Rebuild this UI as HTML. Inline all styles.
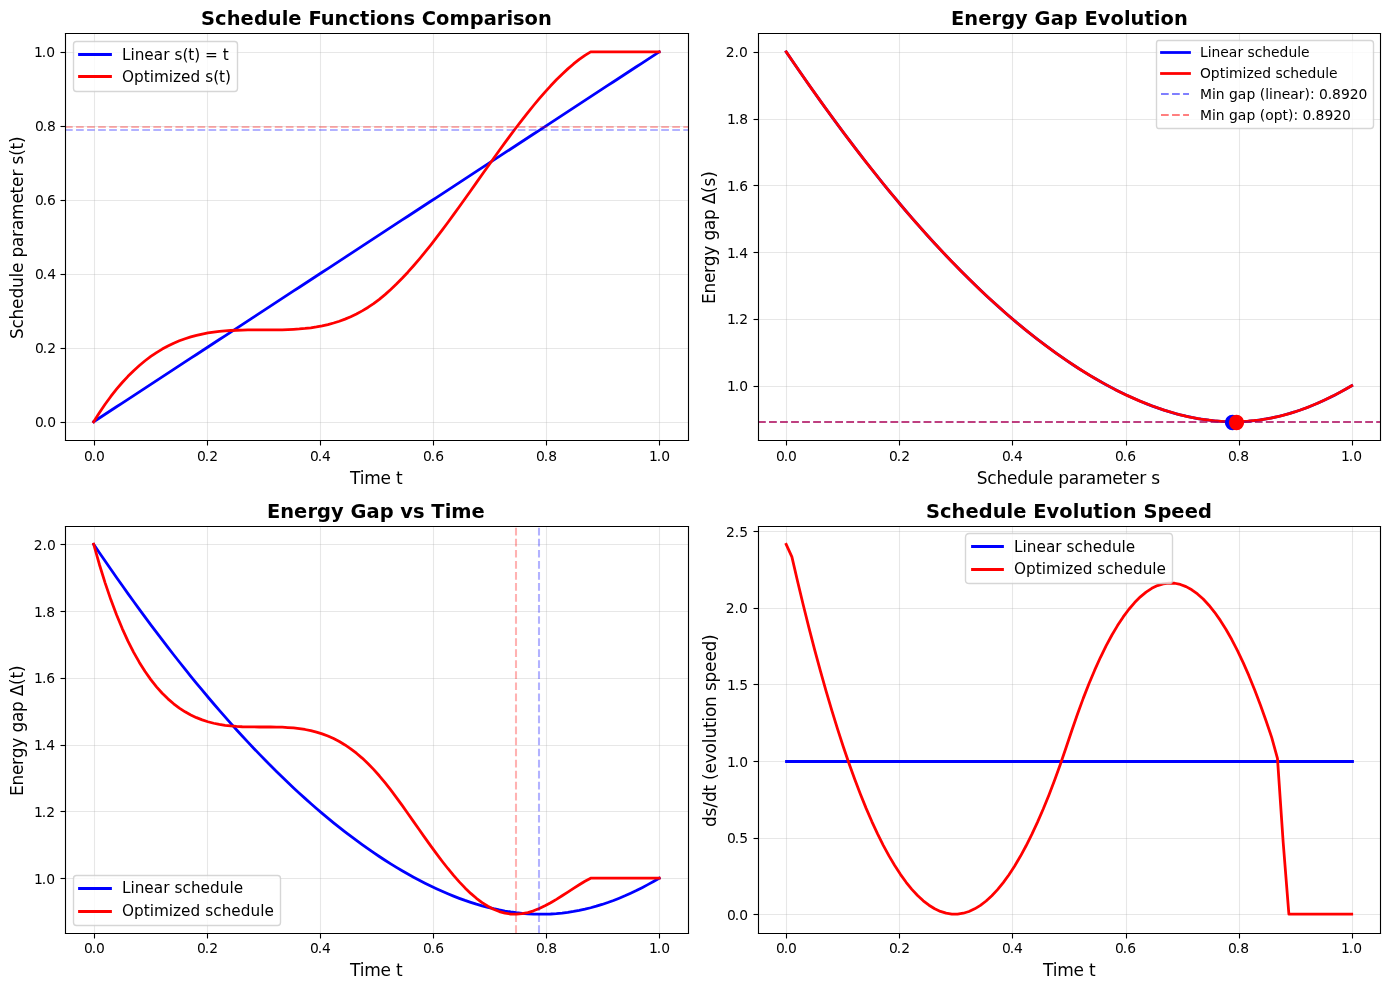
<!DOCTYPE html>
<html lang="en">
<head>
<meta charset="utf-8">
<title>Schedule Functions Comparison</title>
<style>
html,body{margin:0;padding:0;background:#fff;}
body{width:1389px;height:990px;overflow:hidden;}
svg{display:block;}
svg text{font-family:"DejaVu Sans","Liberation Sans",sans-serif;fill:#000;}
</style>
</head>
<body>
<svg width="1389" height="990" viewBox="0 0 1389 990">
<defs>
<clipPath id="c1"><rect x="65" y="33" width="623" height="407"/></clipPath>
<clipPath id="c2"><rect x="758" y="33" width="622" height="407"/></clipPath>
<clipPath id="c3"><rect x="65" y="526" width="623" height="407"/></clipPath>
<clipPath id="c4"><rect x="758" y="526" width="622" height="407"/></clipPath>
</defs>
<path d="M0 990L1390 990L1390 0L0 0Z" fill="#ffffff"/>
<path d="M65 440L688 440L688 33L65 33Z" fill="#ffffff"/>
<path d="M94.5 440.5L94.5 33.5" fill="none" stroke="#b0b0b0" stroke-width="1.111" stroke-opacity="0.3" stroke-linecap="square" stroke-linejoin="round" clip-path="url(#c1)"/>
<path d="M94.5 440.5L94.5 445.5" fill="none" stroke="#000000" stroke-width="1.111" stroke-linejoin="round"/>
<text x="84 91.75 96" y="461" font-size="13.889">0.0</text>
<path d="M207.5 440.5L207.5 33.5" fill="none" stroke="#b0b0b0" stroke-width="1.111" stroke-opacity="0.3" stroke-linecap="square" stroke-linejoin="round" clip-path="url(#c1)"/>
<path d="M207.5 440.5L207.5 445.5" fill="none" stroke="#000000" stroke-width="1.111" stroke-linejoin="round"/>
<text x="197 204.75 209.25" y="461" font-size="13.889">0.2</text>
<path d="M320.5 440.5L320.5 33.5" fill="none" stroke="#b0b0b0" stroke-width="1.111" stroke-opacity="0.3" stroke-linecap="square" stroke-linejoin="round" clip-path="url(#c1)"/>
<path d="M320.5 440.5L320.5 445.5" fill="none" stroke="#000000" stroke-width="1.111" stroke-linejoin="round"/>
<text x="310 317.75 322" y="461" font-size="13.889">0.4</text>
<path d="M433.5 440.5L433.5 33.5" fill="none" stroke="#b0b0b0" stroke-width="1.111" stroke-opacity="0.3" stroke-linecap="square" stroke-linejoin="round" clip-path="url(#c1)"/>
<path d="M433.5 440.5L433.5 445.5" fill="none" stroke="#000000" stroke-width="1.111" stroke-linejoin="round"/>
<text x="423 430.75 435.25" y="461" font-size="13.889">0.6</text>
<path d="M546.5 440.5L546.5 33.5" fill="none" stroke="#b0b0b0" stroke-width="1.111" stroke-opacity="0.3" stroke-linecap="square" stroke-linejoin="round" clip-path="url(#c1)"/>
<path d="M546.5 440.5L546.5 445.5" fill="none" stroke="#000000" stroke-width="1.111" stroke-linejoin="round"/>
<text x="536 543.75 548.25" y="461" font-size="13.889">0.8</text>
<path d="M659.5 440.5L659.5 33.5" fill="none" stroke="#b0b0b0" stroke-width="1.111" stroke-opacity="0.3" stroke-linecap="square" stroke-linejoin="round" clip-path="url(#c1)"/>
<path d="M659.5 440.5L659.5 445.5" fill="none" stroke="#000000" stroke-width="1.111" stroke-linejoin="round"/>
<text x="649 656.75 661.25" y="461" font-size="13.889">1.0</text>
<text x="350 359.75 364.25 380.5 390.75 396" y="484" font-size="17">Time t</text>
<path d="M65.5 422.5L688.5 422.5" fill="none" stroke="#b0b0b0" stroke-width="1.111" stroke-opacity="0.3" stroke-linecap="square" stroke-linejoin="round" clip-path="url(#c1)"/>
<path d="M65.5 422.5L60.5 422.5" fill="none" stroke="#000000" stroke-width="1.111" stroke-linejoin="round"/>
<text x="35 42.75 47.25" y="427" font-size="13.889">0.0</text>
<path d="M65.5 348.5L688.5 348.5" fill="none" stroke="#b0b0b0" stroke-width="1.111" stroke-opacity="0.3" stroke-linecap="square" stroke-linejoin="round" clip-path="url(#c1)"/>
<path d="M65.5 348.5L60.5 348.5" fill="none" stroke="#000000" stroke-width="1.111" stroke-linejoin="round"/>
<text x="35 42.75 47.25" y="353" font-size="13.889">0.2</text>
<path d="M65.5 274.5L688.5 274.5" fill="none" stroke="#b0b0b0" stroke-width="1.111" stroke-opacity="0.3" stroke-linecap="square" stroke-linejoin="round" clip-path="url(#c1)"/>
<path d="M65.5 274.5L60.5 274.5" fill="none" stroke="#000000" stroke-width="1.111" stroke-linejoin="round"/>
<text x="35 42.75 47.25" y="279" font-size="13.889">0.4</text>
<path d="M65.5 200.5L688.5 200.5" fill="none" stroke="#b0b0b0" stroke-width="1.111" stroke-opacity="0.3" stroke-linecap="square" stroke-linejoin="round" clip-path="url(#c1)"/>
<path d="M65.5 200.5L60.5 200.5" fill="none" stroke="#000000" stroke-width="1.111" stroke-linejoin="round"/>
<text x="35 42.75 47" y="205" font-size="13.889">0.6</text>
<path d="M65.5 126.5L688.5 126.5" fill="none" stroke="#b0b0b0" stroke-width="1.111" stroke-opacity="0.3" stroke-linecap="square" stroke-linejoin="round" clip-path="url(#c1)"/>
<path d="M65.5 126.5L60.5 126.5" fill="none" stroke="#000000" stroke-width="1.111" stroke-linejoin="round"/>
<text x="35 42.75 47" y="131" font-size="13.889">0.8</text>
<path d="M65.5 52.5L688.5 52.5" fill="none" stroke="#b0b0b0" stroke-width="1.111" stroke-opacity="0.3" stroke-linecap="square" stroke-linejoin="round" clip-path="url(#c1)"/>
<path d="M65.5 52.5L60.5 52.5" fill="none" stroke="#000000" stroke-width="1.111" stroke-linejoin="round"/>
<text x="34 41.75 46.25" y="57" font-size="13.889">1.0</text>
<text x="23 33.5 42.5 53 63.5 74 84.5 89 99.25 104.5 115 125 132 142 158.5 168.5 175 185.5 192.25 197.5 206.25 212.5 219" y="339" transform="rotate(-90 23 339)" font-size="17">Schedule parameter s(t)</text>
<path d="M93.68 421.73L99.39 417.99L105.11 414.25L110.82 410.52L116.53 406.78L122.24 403.05L127.96 399.31L133.67 395.57L139.38 391.84L145.09 388.1L150.81 384.36L156.52 380.63L162.23 376.89L167.94 373.15L173.66 369.42L179.37 365.68L185.08 361.95L190.79 358.21L196.51 354.47L202.22 350.74L207.93 347L213.64 343.26L219.36 339.53L225.07 335.79L230.78 332.05L236.49 328.32L242.21 324.58L247.92 320.85L253.63 317.11L259.34 313.37L265.06 309.64L270.77 305.9L276.48 302.16L282.19 298.43L287.91 294.69L293.62 290.95L299.33 287.22L305.04 283.48L310.76 279.75L316.47 276.01L322.18 272.27L327.89 268.54L333.61 264.8L339.32 261.06L345.03 257.33L350.74 253.59L356.46 249.86L362.17 246.12L367.88 242.38L373.6 238.65L379.31 234.91L385.02 231.17L390.73 227.44L396.45 223.7L402.16 219.96L407.87 216.23L413.58 212.49L419.3 208.76L425.01 205.02L430.72 201.28L436.43 197.55L442.15 193.81L447.86 190.07L453.57 186.34L459.28 182.6L465 178.86L470.71 175.13L476.42 171.39L482.13 167.66L487.85 163.92L493.56 160.18L499.27 156.45L504.98 152.71L510.7 148.97L516.41 145.24L522.12 141.5L527.83 137.76L533.55 134.03L539.26 130.29L544.97 126.56L550.68 122.82L556.4 119.08L562.11 115.35L567.82 111.61L573.53 107.87L579.25 104.14L584.96 100.4L590.67 96.66L596.38 92.93L602.1 89.19L607.81 85.46L613.52 81.72L619.23 77.98L624.95 74.25L630.66 70.51L636.37 66.77L642.09 63.04L647.8 59.3L653.51 55.56L659.22 51.83" fill="none" stroke="#0000ff" stroke-width="2.778" stroke-linecap="square" stroke-linejoin="round" clip-path="url(#c1)"/>
<path d="M93.68 421.73L99.39 412.71L105.11 404.3L110.82 396.48L116.53 389.22L122.24 382.52L127.96 376.34L133.67 370.66L139.38 365.47L145.09 360.74L150.81 356.44L156.52 352.57L162.23 349.09L167.94 345.99L173.66 343.24L179.37 340.82L185.08 338.72L190.79 336.9L196.51 335.36L202.22 334.06L207.93 332.98L213.64 332.11L219.36 331.43L225.07 330.9L230.78 330.51L236.49 330.24L242.21 330.07L247.92 329.97L253.63 329.93L259.34 329.92L265.06 329.92L270.77 329.92L276.48 329.88L282.19 329.78L287.91 329.61L293.62 329.35L299.33 328.97L305.04 328.45L310.76 327.77L316.47 326.91L322.18 325.84L327.89 324.55L333.61 323.01L339.32 321.21L345.03 319.12L350.74 316.72L356.46 313.98L362.17 310.9L367.88 307.44L373.6 303.58L379.31 299.31L385.02 294.62L390.73 289.54L396.45 284.09L402.16 278.3L407.87 272.18L413.58 265.78L419.3 259.1L425.01 252.17L430.72 245.02L436.43 237.67L442.15 230.14L447.86 222.47L453.57 214.66L459.28 206.75L465 198.77L470.71 190.72L476.42 182.65L482.13 174.57L487.85 166.51L493.56 158.48L499.27 150.53L504.98 142.66L510.7 134.9L516.41 127.29L522.12 119.83L527.83 112.56L533.55 105.5L539.26 98.67L544.97 92.1L550.68 85.81L556.4 79.83L562.11 74.18L567.82 68.88L573.53 63.95L579.25 59.43L584.96 55.34L590.67 51.83L596.38 51.83L602.1 51.83L607.81 51.83L613.52 51.83L619.23 51.83L624.95 51.83L630.66 51.83L636.37 51.83L642.09 51.83L647.8 51.83L653.51 51.83L659.22 51.83" fill="none" stroke="#ff0000" stroke-width="2.778" stroke-linecap="square" stroke-linejoin="round" clip-path="url(#c1)"/>
<path d="M65 130L688 130" fill="none" stroke="#0000ff" stroke-width="2.083" stroke-opacity="0.3" stroke-linejoin="round" stroke-dasharray="7.708,3.333" clip-path="url(#c1)"/>
<path d="M65 127L688 127" fill="none" stroke="#ff0000" stroke-width="2.083" stroke-opacity="0.3" stroke-linejoin="round" stroke-dasharray="7.708,3.333" clip-path="url(#c1)"/>
<path d="M65.5 440.5L65.5 33.5" fill="none" stroke="#000000" stroke-width="1.111" stroke-linecap="square"/>
<path d="M688.5 440.5L688.5 33.5" fill="none" stroke="#000000" stroke-width="1.111" stroke-linecap="square"/>
<path d="M65.5 440.5L688.5 440.5" fill="none" stroke="#000000" stroke-width="1.111" stroke-linecap="square"/>
<path d="M65.5 33.5L688.5 33.5" fill="none" stroke="#000000" stroke-width="1.111" stroke-linecap="square"/>
<text x="201 215 226.75 240.5 254 267.75 281.75 288.25 301.75 308.5 320.75 334.5 348.5 360 369.5 376 389.5 403.5 415 421.75 436 449.5 469.75 483.75 496.75 506.5 513 524.5 538" y="25" font-size="19.444" font-weight="bold">Schedule Functions Comparison</text>
<path d="M76.5 91.5L234.5 91.5Q237.5 91.5 237.5 88.5L237.5 44.5Q237.5 41.5 234.5 41.5L76.5 41.5Q73.5 41.5 73.5 44.5L73.5 88.5Q73.5 91.5 76.5 91.5Z" fill="#ffffff" fill-opacity="0.8" stroke="#cccccc" stroke-width="1.389" stroke-opacity="0.8"/>
<path d="M79.5 54.5L94.5 54.5L110.5 54.5" fill="none" stroke="#0000ff" stroke-width="2.778" stroke-linecap="square" stroke-linejoin="round"/>
<text x="122 130.5 134.75 144.25 153.75 163.25 169.5 174.5 182.5 188.25 194.25 200.25 205 217.75 222.75" y="60" font-size="15.278">Linear s(t) = t</text>
<path d="M79.5 76.5L94.5 76.5L110.5 76.5" fill="none" stroke="#ff0000" stroke-width="2.778" stroke-linecap="square" stroke-linejoin="round"/>
<text x="122 134 143.75 149.75 154 168.75 173 181 190.5 200.25 205.25 213.25 219 225" y="82" font-size="15.278">Optimized s(t)</text>
<path d="M758 440L1380 440L1380 33L758 33Z" fill="#ffffff"/>
<path d="M786.5 440.5L786.5 33.5" fill="none" stroke="#b0b0b0" stroke-width="1.111" stroke-opacity="0.3" stroke-linecap="square" stroke-linejoin="round" clip-path="url(#c2)"/>
<path d="M786.5 440.5L786.5 445.5" fill="none" stroke="#000000" stroke-width="1.111" stroke-linejoin="round"/>
<text x="776 783.75 788" y="461" font-size="13.889">0.0</text>
<path d="M899.5 440.5L899.5 33.5" fill="none" stroke="#b0b0b0" stroke-width="1.111" stroke-opacity="0.3" stroke-linecap="square" stroke-linejoin="round" clip-path="url(#c2)"/>
<path d="M899.5 440.5L899.5 445.5" fill="none" stroke="#000000" stroke-width="1.111" stroke-linejoin="round"/>
<text x="889 896.75 901.25" y="461" font-size="13.889">0.2</text>
<path d="M1012.5 440.5L1012.5 33.5" fill="none" stroke="#b0b0b0" stroke-width="1.111" stroke-opacity="0.3" stroke-linecap="square" stroke-linejoin="round" clip-path="url(#c2)"/>
<path d="M1012.5 440.5L1012.5 445.5" fill="none" stroke="#000000" stroke-width="1.111" stroke-linejoin="round"/>
<text x="1002 1009.75 1014" y="461" font-size="13.889">0.4</text>
<path d="M1126.5 440.5L1126.5 33.5" fill="none" stroke="#b0b0b0" stroke-width="1.111" stroke-opacity="0.3" stroke-linecap="square" stroke-linejoin="round" clip-path="url(#c2)"/>
<path d="M1126.5 440.5L1126.5 445.5" fill="none" stroke="#000000" stroke-width="1.111" stroke-linejoin="round"/>
<text x="1115 1122.75 1127.25" y="461" font-size="13.889">0.6</text>
<path d="M1239.5 440.5L1239.5 33.5" fill="none" stroke="#b0b0b0" stroke-width="1.111" stroke-opacity="0.3" stroke-linecap="square" stroke-linejoin="round" clip-path="url(#c2)"/>
<path d="M1239.5 440.5L1239.5 445.5" fill="none" stroke="#000000" stroke-width="1.111" stroke-linejoin="round"/>
<text x="1228 1235.75 1240.25" y="461" font-size="13.889">0.8</text>
<path d="M1352.5 440.5L1352.5 33.5" fill="none" stroke="#b0b0b0" stroke-width="1.111" stroke-opacity="0.3" stroke-linecap="square" stroke-linejoin="round" clip-path="url(#c2)"/>
<path d="M1352.5 440.5L1352.5 445.5" fill="none" stroke="#000000" stroke-width="1.111" stroke-linejoin="round"/>
<text x="1341 1348.75 1353.25" y="461" font-size="13.889">1.0</text>
<text x="976.75 987.25 996.5 1007 1017.25 1027.75 1038.25 1042.75 1053 1058.25 1068.75 1079 1085.75 1096 1112.25 1122.5 1129 1139.25 1146 1151.25" y="484" font-size="17">Schedule parameter s</text>
<path d="M758.5 386.5L1380.5 386.5" fill="none" stroke="#b0b0b0" stroke-width="1.111" stroke-opacity="0.3" stroke-linecap="square" stroke-linejoin="round" clip-path="url(#c2)"/>
<path d="M758.5 386.5L753.5 386.5" fill="none" stroke="#000000" stroke-width="1.111" stroke-linejoin="round"/>
<text x="727 734.75 739.25" y="391" font-size="13.889">1.0</text>
<path d="M758.5 319.5L1380.5 319.5" fill="none" stroke="#b0b0b0" stroke-width="1.111" stroke-opacity="0.3" stroke-linecap="square" stroke-linejoin="round" clip-path="url(#c2)"/>
<path d="M758.5 319.5L753.5 319.5" fill="none" stroke="#000000" stroke-width="1.111" stroke-linejoin="round"/>
<text x="727 734.75 739.25" y="324" font-size="13.889">1.2</text>
<path d="M758.5 252.5L1380.5 252.5" fill="none" stroke="#b0b0b0" stroke-width="1.111" stroke-opacity="0.3" stroke-linecap="square" stroke-linejoin="round" clip-path="url(#c2)"/>
<path d="M758.5 252.5L753.5 252.5" fill="none" stroke="#000000" stroke-width="1.111" stroke-linejoin="round"/>
<text x="727 734.75 739.25" y="258" font-size="13.889">1.4</text>
<path d="M758.5 185.5L1380.5 185.5" fill="none" stroke="#b0b0b0" stroke-width="1.111" stroke-opacity="0.3" stroke-linecap="square" stroke-linejoin="round" clip-path="url(#c2)"/>
<path d="M758.5 185.5L753.5 185.5" fill="none" stroke="#000000" stroke-width="1.111" stroke-linejoin="round"/>
<text x="727 735 739.25" y="191" font-size="13.889">1.6</text>
<path d="M758.5 119.5L1380.5 119.5" fill="none" stroke="#b0b0b0" stroke-width="1.111" stroke-opacity="0.3" stroke-linecap="square" stroke-linejoin="round" clip-path="url(#c2)"/>
<path d="M758.5 119.5L753.5 119.5" fill="none" stroke="#000000" stroke-width="1.111" stroke-linejoin="round"/>
<text x="727 735 739.25" y="124" font-size="13.889">1.8</text>
<path d="M758.5 52.5L1380.5 52.5" fill="none" stroke="#b0b0b0" stroke-width="1.111" stroke-opacity="0.3" stroke-linecap="square" stroke-linejoin="round" clip-path="url(#c2)"/>
<path d="M758.5 52.5L753.5 52.5" fill="none" stroke="#000000" stroke-width="1.111" stroke-linejoin="round"/>
<text x="725.75 734.5 739" y="57" font-size="13.889">2.0</text>
<text x="715 725.5 736 746 752.75 763.25 773 778.5 789 799 809.5 814.75 826 832.5 841.25" y="304" transform="rotate(-90 715 304)" font-size="17">Energy gap Δ(s)</text>
<path d="M786.18 51.83L791.89 60.22L797.61 68.54L803.32 76.79L809.03 84.96L814.74 93.05L820.46 101.07L826.17 109L831.88 116.86L837.59 124.63L843.31 132.32L849.02 139.93L854.73 147.46L860.44 154.9L866.16 162.25L871.87 169.51L877.58 176.69L883.29 183.78L889.01 190.78L894.72 197.69L900.43 204.51L906.14 211.24L911.86 217.87L917.57 224.41L923.28 230.86L928.99 237.21L934.71 243.47L940.42 249.63L946.13 255.69L951.84 261.66L957.56 267.54L963.27 273.31L968.98 278.99L974.69 284.57L980.41 290.05L986.12 295.43L991.83 300.71L997.54 305.9L1003.26 310.98L1008.97 315.96L1014.68 320.84L1020.39 325.62L1026.11 330.3L1031.82 334.87L1037.53 339.35L1043.24 343.72L1048.96 347.98L1054.67 352.14L1060.38 356.2L1066.1 360.14L1071.81 363.99L1077.52 367.72L1083.23 371.34L1088.95 374.86L1094.66 378.26L1100.37 381.55L1106.08 384.73L1111.8 387.79L1117.51 390.73L1123.22 393.56L1128.93 396.26L1134.65 398.84L1140.36 401.3L1146.07 403.63L1151.78 405.83L1157.5 407.91L1163.21 409.84L1168.92 411.65L1174.63 413.31L1180.35 414.83L1186.06 416.21L1191.77 417.44L1197.48 418.52L1203.2 419.45L1208.91 420.23L1214.62 420.84L1220.33 421.3L1226.05 421.6L1231.76 421.73L1237.47 421.69L1243.18 421.49L1248.9 421.12L1254.61 420.57L1260.32 419.86L1266.03 418.97L1271.75 417.91L1277.46 416.68L1283.17 415.27L1288.88 413.7L1294.6 411.95L1300.31 410.04L1306.02 407.96L1311.73 405.71L1317.45 403.31L1323.16 400.74L1328.87 398.03L1334.59 395.15L1340.3 392.14L1346.01 388.97L1351.72 385.67" fill="none" stroke="#0000ff" stroke-width="2.778" stroke-linecap="square" stroke-linejoin="round" clip-path="url(#c2)"/>
<path d="M786.18 51.83L799.97 71.97L812.83 90.35L824.79 107.09L835.88 122.3L846.13 136.09L855.58 148.56L864.26 159.81L872.2 169.93L879.43 179L885.99 187.1L891.92 194.32L897.24 200.71L901.98 206.34L906.18 211.28L909.87 215.58L913.09 219.29L915.87 222.47L918.23 225.16L920.22 227.41L921.86 229.26L923.19 230.76L924.24 231.93L925.05 232.83L925.64 233.49L926.05 233.95L926.31 234.24L926.46 234.4L926.53 234.48L926.54 234.49L926.54 234.49L926.55 234.5L926.61 234.57L926.76 234.73L927.01 235.02L927.42 235.47L928 236.11L928.8 236.99L929.84 238.14L931.15 239.59L932.78 241.37L934.75 243.52L937.1 246.06L939.86 249.03L943.06 252.44L946.73 256.32L950.91 260.69L955.63 265.57L960.92 270.95L966.82 276.85L973.35 283.27L980.52 290.16L988.29 297.45L996.62 305.06L1005.47 312.92L1014.82 320.96L1024.62 329.09L1034.83 337.24L1045.42 345.35L1056.35 353.35L1067.59 361.16L1079.1 368.73L1090.83 375.99L1102.77 382.9L1114.86 389.38L1127.07 395.39L1139.36 400.88L1151.71 405.81L1164.06 410.12L1176.39 413.79L1188.65 416.79L1200.82 419.08L1212.85 420.67L1224.71 421.54L1236.35 421.71L1247.75 421.2L1258.87 420.06L1269.67 418.32L1280.1 416.05L1290.15 413.32L1299.76 410.23L1308.91 406.84L1317.56 403.26L1325.66 399.57L1333.18 395.87L1340.09 392.25L1346.35 388.78L1351.72 385.67L1351.72 385.67L1351.72 385.67L1351.72 385.67L1351.72 385.67L1351.72 385.67L1351.72 385.67L1351.72 385.67L1351.72 385.67L1351.72 385.67L1351.72 385.67L1351.72 385.67L1351.72 385.67" fill="none" stroke="#ff0000" stroke-width="2.778" stroke-linecap="square" stroke-linejoin="round" clip-path="url(#c2)"/>
<path d="M758 422L1380 422" fill="none" stroke="#0000ff" stroke-width="2.083" stroke-opacity="0.5" stroke-linejoin="round" stroke-dasharray="7.708,3.333" clip-path="url(#c2)"/>
<path d="M758 422L1380 422" fill="none" stroke="#ff0000" stroke-width="2.083" stroke-opacity="0.5" stroke-linejoin="round" stroke-dasharray="7.708,3.333" clip-path="url(#c2)"/>
<path d="M1232.5 429.44C1234.34 429.44 1236.11 428.71 1237.41 427.41C1238.71 426.11 1239.44 424.34 1239.44 422.5C1239.44 420.66 1238.71 418.89 1237.41 417.59C1236.11 416.29 1234.34 415.56 1232.5 415.56C1230.66 415.56 1228.89 416.29 1227.59 417.59C1226.29 418.89 1225.56 420.66 1225.56 422.5C1225.56 424.34 1226.29 426.11 1227.59 427.41C1228.89 428.71 1230.66 429.44 1232.5 429.44Z" fill="#0000ff" stroke="#0000ff" stroke-width="1.389" stroke-linejoin="round" clip-path="url(#c2)"/>
<path d="M1236.5 429.44C1238.34 429.44 1240.11 428.71 1241.41 427.41C1242.71 426.11 1243.44 424.34 1243.44 422.5C1243.44 420.66 1242.71 418.89 1241.41 417.59C1240.11 416.29 1238.34 415.56 1236.5 415.56C1234.66 415.56 1232.89 416.29 1231.59 417.59C1230.29 418.89 1229.56 420.66 1229.56 422.5C1229.56 424.34 1230.29 426.11 1231.59 427.41C1232.89 428.71 1234.66 429.44 1236.5 429.44Z" fill="#ff0000" stroke="#ff0000" stroke-width="1.389" stroke-linejoin="round" clip-path="url(#c2)"/>
<path d="M758.5 440.5L758.5 33.5" fill="none" stroke="#000000" stroke-width="1.111" stroke-linecap="square"/>
<path d="M1380.5 440.5L1380.5 33.5" fill="none" stroke="#000000" stroke-width="1.111" stroke-linecap="square"/>
<path d="M758.5 440.5L1380.5 440.5" fill="none" stroke="#000000" stroke-width="1.111" stroke-linecap="square"/>
<path d="M758.5 33.5L1380.5 33.5" fill="none" stroke="#000000" stroke-width="1.111" stroke-linecap="square"/>
<text x="951 964.25 978.25 991.5 1001.25 1015 1027.75 1034.5 1050.75 1063.75 1077.75 1084.5 1097.75 1110.5 1124 1130.5 1144.5 1153.75 1160.5 1174" y="25" font-size="19.444" font-weight="bold">Energy Gap Evolution</text>
<path d="M1158.5 128.5L1370.5 128.5Q1373.5 128.5 1373.5 125.5L1373.5 43.5Q1373.5 40.5 1370.5 40.5L1158.5 40.5Q1156.5 40.5 1156.5 43.5L1156.5 125.5Q1156.5 128.5 1158.5 128.5Z" fill="#ffffff" fill-opacity="0.8" stroke="#cccccc" stroke-width="1.389" stroke-opacity="0.8"/>
<path d="M1161.5 52.5L1175.5 52.5L1189.5 52.5" fill="none" stroke="#0000ff" stroke-width="2.778" stroke-linecap="square" stroke-linejoin="round"/>
<text x="1200 1207.75 1211.5 1220.25 1228.75 1237.5 1243.25 1247.5 1254.75 1262.25 1271 1279.5 1288.5 1297.25 1301" y="57" font-size="13.889">Linear schedule</text>
<path d="M1161.5 73.5L1175.5 73.5L1189.5 73.5" fill="none" stroke="#ff0000" stroke-width="2.778" stroke-linecap="square" stroke-linejoin="round"/>
<text x="1200 1210.75 1219.75 1225.25 1229 1242.5 1246.5 1253.75 1262.25 1271.25 1275.5 1282.75 1290.25 1299 1307.5 1316.5 1325.25 1329" y="78" font-size="13.889">Optimized schedule</text>
<path d="M1161 94L1175 94L1189 94" fill="none" stroke="#0000ff" stroke-width="2.083" stroke-opacity="0.5" stroke-linejoin="round" stroke-dasharray="7.708,3.333"/>
<text x="1200 1212 1215.75 1224.5 1229 1237.75 1246.5 1255.25 1259.75 1265.25 1269 1273 1281.75 1290.25 1298.75 1304.5 1310 1314.5 1319 1327.75 1332 1341 1349.75 1358.5" y="99" font-size="13.889">Min gap (linear): 0.8920</text>
<path d="M1161 115L1175 115L1189 115" fill="none" stroke="#ff0000" stroke-width="2.083" stroke-opacity="0.5" stroke-linejoin="round" stroke-dasharray="7.708,3.333"/>
<text x="1200 1212 1215.75 1224.5 1229 1237.75 1246.5 1255.25 1259.75 1265.25 1273.75 1282.5 1288 1293.5 1298 1302.5 1311.25 1315.5 1324.5 1333.25 1342" y="120" font-size="13.889">Min gap (opt): 0.8920</text>
<path d="M65 933L688 933L688 526L65 526Z" fill="#ffffff"/>
<path d="M94.5 933.5L94.5 526.5" fill="none" stroke="#b0b0b0" stroke-width="1.111" stroke-opacity="0.3" stroke-linecap="square" stroke-linejoin="round" clip-path="url(#c3)"/>
<path d="M94.5 933.5L94.5 938.5" fill="none" stroke="#000000" stroke-width="1.111" stroke-linejoin="round"/>
<text x="84 91.75 96" y="953" font-size="13.889">0.0</text>
<path d="M207.5 933.5L207.5 526.5" fill="none" stroke="#b0b0b0" stroke-width="1.111" stroke-opacity="0.3" stroke-linecap="square" stroke-linejoin="round" clip-path="url(#c3)"/>
<path d="M207.5 933.5L207.5 938.5" fill="none" stroke="#000000" stroke-width="1.111" stroke-linejoin="round"/>
<text x="197 204.75 209.25" y="953" font-size="13.889">0.2</text>
<path d="M320.5 933.5L320.5 526.5" fill="none" stroke="#b0b0b0" stroke-width="1.111" stroke-opacity="0.3" stroke-linecap="square" stroke-linejoin="round" clip-path="url(#c3)"/>
<path d="M320.5 933.5L320.5 938.5" fill="none" stroke="#000000" stroke-width="1.111" stroke-linejoin="round"/>
<text x="310 317.75 322" y="953" font-size="13.889">0.4</text>
<path d="M433.5 933.5L433.5 526.5" fill="none" stroke="#b0b0b0" stroke-width="1.111" stroke-opacity="0.3" stroke-linecap="square" stroke-linejoin="round" clip-path="url(#c3)"/>
<path d="M433.5 933.5L433.5 938.5" fill="none" stroke="#000000" stroke-width="1.111" stroke-linejoin="round"/>
<text x="423 430.75 435.25" y="953" font-size="13.889">0.6</text>
<path d="M546.5 933.5L546.5 526.5" fill="none" stroke="#b0b0b0" stroke-width="1.111" stroke-opacity="0.3" stroke-linecap="square" stroke-linejoin="round" clip-path="url(#c3)"/>
<path d="M546.5 933.5L546.5 938.5" fill="none" stroke="#000000" stroke-width="1.111" stroke-linejoin="round"/>
<text x="536 543.75 548.25" y="953" font-size="13.889">0.8</text>
<path d="M659.5 933.5L659.5 526.5" fill="none" stroke="#b0b0b0" stroke-width="1.111" stroke-opacity="0.3" stroke-linecap="square" stroke-linejoin="round" clip-path="url(#c3)"/>
<path d="M659.5 933.5L659.5 938.5" fill="none" stroke="#000000" stroke-width="1.111" stroke-linejoin="round"/>
<text x="649 656.75 661.25" y="953" font-size="13.889">1.0</text>
<text x="350 359.75 364.25 380.5 390.75 396" y="976" font-size="17">Time t</text>
<path d="M65.5 878.5L688.5 878.5" fill="none" stroke="#b0b0b0" stroke-width="1.111" stroke-opacity="0.3" stroke-linecap="square" stroke-linejoin="round" clip-path="url(#c3)"/>
<path d="M65.5 878.5L60.5 878.5" fill="none" stroke="#000000" stroke-width="1.111" stroke-linejoin="round"/>
<text x="34 41.75 46.25" y="884" font-size="13.889">1.0</text>
<path d="M65.5 811.5L688.5 811.5" fill="none" stroke="#b0b0b0" stroke-width="1.111" stroke-opacity="0.3" stroke-linecap="square" stroke-linejoin="round" clip-path="url(#c3)"/>
<path d="M65.5 811.5L60.5 811.5" fill="none" stroke="#000000" stroke-width="1.111" stroke-linejoin="round"/>
<text x="34 41.75 46.25" y="817" font-size="13.889">1.2</text>
<path d="M65.5 745.5L688.5 745.5" fill="none" stroke="#b0b0b0" stroke-width="1.111" stroke-opacity="0.3" stroke-linecap="square" stroke-linejoin="round" clip-path="url(#c3)"/>
<path d="M65.5 745.5L60.5 745.5" fill="none" stroke="#000000" stroke-width="1.111" stroke-linejoin="round"/>
<text x="34 41.75 46.25" y="750" font-size="13.889">1.4</text>
<path d="M65.5 678.5L688.5 678.5" fill="none" stroke="#b0b0b0" stroke-width="1.111" stroke-opacity="0.3" stroke-linecap="square" stroke-linejoin="round" clip-path="url(#c3)"/>
<path d="M65.5 678.5L60.5 678.5" fill="none" stroke="#000000" stroke-width="1.111" stroke-linejoin="round"/>
<text x="34 42 46.25" y="683" font-size="13.889">1.6</text>
<path d="M65.5 611.5L688.5 611.5" fill="none" stroke="#b0b0b0" stroke-width="1.111" stroke-opacity="0.3" stroke-linecap="square" stroke-linejoin="round" clip-path="url(#c3)"/>
<path d="M65.5 611.5L60.5 611.5" fill="none" stroke="#000000" stroke-width="1.111" stroke-linejoin="round"/>
<text x="34 42 46.25" y="617" font-size="13.889">1.8</text>
<path d="M65.5 544.5L688.5 544.5" fill="none" stroke="#b0b0b0" stroke-width="1.111" stroke-opacity="0.3" stroke-linecap="square" stroke-linejoin="round" clip-path="url(#c3)"/>
<path d="M65.5 544.5L60.5 544.5" fill="none" stroke="#000000" stroke-width="1.111" stroke-linejoin="round"/>
<text x="33.75 42.5 47" y="550" font-size="13.889">2.0</text>
<text x="23 33.5 44 54 60.75 71.25 81 86.5 97 107 117.5 122.75 134 140.5 147" y="796" transform="rotate(-90 23 796)" font-size="17">Energy gap Δ(t)</text>
<path d="M93.68 544.33L99.39 552.72L105.11 561.04L110.82 569.29L116.53 577.46L122.24 585.55L127.96 593.57L133.67 601.5L139.38 609.36L145.09 617.13L150.81 624.82L156.52 632.43L162.23 639.96L167.94 647.4L173.66 654.75L179.37 662.01L185.08 669.19L190.79 676.28L196.51 683.28L202.22 690.19L207.93 697.01L213.64 703.74L219.36 710.37L225.07 716.91L230.78 723.36L236.49 729.71L242.21 735.97L247.92 742.13L253.63 748.19L259.34 754.16L265.06 760.04L270.77 765.81L276.48 771.49L282.19 777.07L287.91 782.55L293.62 787.93L299.33 793.21L305.04 798.4L310.76 803.48L316.47 808.46L322.18 813.34L327.89 818.12L333.61 822.8L339.32 827.37L345.03 831.85L350.74 836.22L356.46 840.48L362.17 844.64L367.88 848.7L373.6 852.64L379.31 856.49L385.02 860.22L390.73 863.84L396.45 867.36L402.16 870.76L407.87 874.05L413.58 877.23L419.3 880.29L425.01 883.23L430.72 886.06L436.43 888.76L442.15 891.34L447.86 893.8L453.57 896.13L459.28 898.33L465 900.41L470.71 902.34L476.42 904.15L482.13 905.81L487.85 907.33L493.56 908.71L499.27 909.94L504.98 911.02L510.7 911.95L516.41 912.73L522.12 913.34L527.83 913.8L533.55 914.1L539.26 914.23L544.97 914.19L550.68 913.99L556.4 913.62L562.11 913.07L567.82 912.36L573.53 911.47L579.25 910.41L584.96 909.18L590.67 907.77L596.38 906.2L602.1 904.45L607.81 902.54L613.52 900.46L619.23 898.21L624.95 895.81L630.66 893.24L636.37 890.53L642.09 887.65L647.8 884.64L653.51 881.47L659.22 878.17" fill="none" stroke="#0000ff" stroke-width="2.778" stroke-linecap="square" stroke-linejoin="round" clip-path="url(#c3)"/>
<path d="M93.68 544.33L99.39 564.47L105.11 582.85L110.82 599.59L116.53 614.8L122.24 628.59L127.96 641.06L133.67 652.31L139.38 662.43L145.09 671.5L150.81 679.6L156.52 686.82L162.23 693.21L167.94 698.84L173.66 703.78L179.37 708.08L185.08 711.79L190.79 714.97L196.51 717.66L202.22 719.91L207.93 721.76L213.64 723.26L219.36 724.43L225.07 725.33L230.78 725.99L236.49 726.45L242.21 726.74L247.92 726.9L253.63 726.98L259.34 726.99L265.06 726.99L270.77 727L276.48 727.07L282.19 727.23L287.91 727.52L293.62 727.97L299.33 728.61L305.04 729.49L310.76 730.64L316.47 732.09L322.18 733.87L327.89 736.02L333.61 738.56L339.32 741.53L345.03 744.94L350.74 748.82L356.46 753.19L362.17 758.07L367.88 763.45L373.6 769.35L379.31 775.77L385.02 782.66L390.73 789.95L396.45 797.56L402.16 805.42L407.87 813.46L413.58 821.59L419.3 829.74L425.01 837.85L430.72 845.85L436.43 853.66L442.15 861.23L447.86 868.49L453.57 875.4L459.28 881.88L465 887.89L470.71 893.38L476.42 898.31L482.13 902.62L487.85 906.29L493.56 909.29L499.27 911.58L504.98 913.17L510.7 914.04L516.41 914.21L522.12 913.7L527.83 912.56L533.55 910.82L539.26 908.55L544.97 905.82L550.68 902.73L556.4 899.34L562.11 895.76L567.82 892.07L573.53 888.37L579.25 884.75L584.96 881.28L590.67 878.17L596.38 878.17L602.1 878.17L607.81 878.17L613.52 878.17L619.23 878.17L624.95 878.17L630.66 878.17L636.37 878.17L642.09 878.17L647.8 878.17L653.51 878.17L659.22 878.17" fill="none" stroke="#ff0000" stroke-width="2.778" stroke-linecap="square" stroke-linejoin="round" clip-path="url(#c3)"/>
<path d="M539 933L539 526" fill="none" stroke="#0000ff" stroke-width="2.083" stroke-opacity="0.3" stroke-linejoin="round" stroke-dasharray="7.708,3.333" clip-path="url(#c3)"/>
<path d="M516 933L516 526" fill="none" stroke="#ff0000" stroke-width="2.083" stroke-opacity="0.3" stroke-linejoin="round" stroke-dasharray="7.708,3.333" clip-path="url(#c3)"/>
<path d="M65.5 933.5L65.5 526.5" fill="none" stroke="#000000" stroke-width="1.111" stroke-linecap="square"/>
<path d="M688.5 933.5L688.5 526.5" fill="none" stroke="#000000" stroke-width="1.111" stroke-linecap="square"/>
<path d="M65.5 933.5L688.5 933.5" fill="none" stroke="#000000" stroke-width="1.111" stroke-linecap="square"/>
<path d="M65.5 526.5L688.5 526.5" fill="none" stroke="#000000" stroke-width="1.111" stroke-linecap="square"/>
<text x="267 280.25 294 307.5 317 331 343.75 350.5 366.5 379.75 393.5 400.25 413 424.5 431.25 444.75 451.25 471.5" y="518" font-size="19.444" font-weight="bold">Energy Gap vs Time</text>
<path d="M76.5 925.5L277.5 925.5Q280.5 925.5 280.5 922.5L280.5 878.5Q280.5 875.5 277.5 875.5L76.5 875.5Q73.5 875.5 73.5 878.5L73.5 922.5Q73.5 925.5 76.5 925.5Z" fill="#ffffff" fill-opacity="0.8" stroke="#cccccc" stroke-width="1.389" stroke-opacity="0.8"/>
<path d="M79.5 888.5L94.5 888.5L110.5 888.5" fill="none" stroke="#0000ff" stroke-width="2.778" stroke-linecap="square" stroke-linejoin="round"/>
<text x="122 130.5 134.75 144.25 153.75 163.25 169.5 174.5 182.5 191 200.5 210 219.75 229.5 233.75" y="893" font-size="15.278">Linear schedule</text>
<path d="M79.5 911.5L94.5 911.5L110.5 911.5" fill="none" stroke="#ff0000" stroke-width="2.778" stroke-linecap="square" stroke-linejoin="round"/>
<text x="122 134 143.75 149.75 154 168.75 173 181 190.5 200.25 205.25 213.25 221.75 231.25 240.75 250.5 260.25 264.5" y="916" font-size="15.278">Optimized schedule</text>
<path d="M758 933L1380 933L1380 526L758 526Z" fill="#ffffff"/>
<path d="M786.5 933.5L786.5 526.5" fill="none" stroke="#b0b0b0" stroke-width="1.111" stroke-opacity="0.3" stroke-linecap="square" stroke-linejoin="round" clip-path="url(#c4)"/>
<path d="M786.5 933.5L786.5 938.5" fill="none" stroke="#000000" stroke-width="1.111" stroke-linejoin="round"/>
<text x="776 783.75 788" y="953" font-size="13.889">0.0</text>
<path d="M899.5 933.5L899.5 526.5" fill="none" stroke="#b0b0b0" stroke-width="1.111" stroke-opacity="0.3" stroke-linecap="square" stroke-linejoin="round" clip-path="url(#c4)"/>
<path d="M899.5 933.5L899.5 938.5" fill="none" stroke="#000000" stroke-width="1.111" stroke-linejoin="round"/>
<text x="889 896.75 901.25" y="953" font-size="13.889">0.2</text>
<path d="M1012.5 933.5L1012.5 526.5" fill="none" stroke="#b0b0b0" stroke-width="1.111" stroke-opacity="0.3" stroke-linecap="square" stroke-linejoin="round" clip-path="url(#c4)"/>
<path d="M1012.5 933.5L1012.5 938.5" fill="none" stroke="#000000" stroke-width="1.111" stroke-linejoin="round"/>
<text x="1002 1009.75 1014" y="953" font-size="13.889">0.4</text>
<path d="M1126.5 933.5L1126.5 526.5" fill="none" stroke="#b0b0b0" stroke-width="1.111" stroke-opacity="0.3" stroke-linecap="square" stroke-linejoin="round" clip-path="url(#c4)"/>
<path d="M1126.5 933.5L1126.5 938.5" fill="none" stroke="#000000" stroke-width="1.111" stroke-linejoin="round"/>
<text x="1115 1122.75 1127.25" y="953" font-size="13.889">0.6</text>
<path d="M1239.5 933.5L1239.5 526.5" fill="none" stroke="#b0b0b0" stroke-width="1.111" stroke-opacity="0.3" stroke-linecap="square" stroke-linejoin="round" clip-path="url(#c4)"/>
<path d="M1239.5 933.5L1239.5 938.5" fill="none" stroke="#000000" stroke-width="1.111" stroke-linejoin="round"/>
<text x="1228 1235.75 1240.25" y="953" font-size="13.889">0.8</text>
<path d="M1352.5 933.5L1352.5 526.5" fill="none" stroke="#b0b0b0" stroke-width="1.111" stroke-opacity="0.3" stroke-linecap="square" stroke-linejoin="round" clip-path="url(#c4)"/>
<path d="M1352.5 933.5L1352.5 938.5" fill="none" stroke="#000000" stroke-width="1.111" stroke-linejoin="round"/>
<text x="1341 1348.75 1353.25" y="953" font-size="13.889">1.0</text>
<text x="1043 1052.75 1057.25 1073.5 1083.75 1089" y="976" font-size="17">Time t</text>
<path d="M758.5 914.5L1380.5 914.5" fill="none" stroke="#b0b0b0" stroke-width="1.111" stroke-opacity="0.3" stroke-linecap="square" stroke-linejoin="round" clip-path="url(#c4)"/>
<path d="M758.5 914.5L753.5 914.5" fill="none" stroke="#000000" stroke-width="1.111" stroke-linejoin="round"/>
<text x="727 734.75 739.25" y="920" font-size="13.889">0.0</text>
<path d="M758.5 838.5L1380.5 838.5" fill="none" stroke="#b0b0b0" stroke-width="1.111" stroke-opacity="0.3" stroke-linecap="square" stroke-linejoin="round" clip-path="url(#c4)"/>
<path d="M758.5 838.5L753.5 838.5" fill="none" stroke="#000000" stroke-width="1.111" stroke-linejoin="round"/>
<text x="727 734.75 739.25" y="843" font-size="13.889">0.5</text>
<path d="M758.5 761.5L1380.5 761.5" fill="none" stroke="#b0b0b0" stroke-width="1.111" stroke-opacity="0.3" stroke-linecap="square" stroke-linejoin="round" clip-path="url(#c4)"/>
<path d="M758.5 761.5L753.5 761.5" fill="none" stroke="#000000" stroke-width="1.111" stroke-linejoin="round"/>
<text x="727 734.75 739.25" y="767" font-size="13.889">1.0</text>
<path d="M758.5 684.5L1380.5 684.5" fill="none" stroke="#b0b0b0" stroke-width="1.111" stroke-opacity="0.3" stroke-linecap="square" stroke-linejoin="round" clip-path="url(#c4)"/>
<path d="M758.5 684.5L753.5 684.5" fill="none" stroke="#000000" stroke-width="1.111" stroke-linejoin="round"/>
<text x="727 734.75 739.25" y="690" font-size="13.889">1.5</text>
<path d="M758.5 608.5L1380.5 608.5" fill="none" stroke="#b0b0b0" stroke-width="1.111" stroke-opacity="0.3" stroke-linecap="square" stroke-linejoin="round" clip-path="url(#c4)"/>
<path d="M758.5 608.5L753.5 608.5" fill="none" stroke="#000000" stroke-width="1.111" stroke-linejoin="round"/>
<text x="725.75 734.5 739" y="613" font-size="13.889">2.0</text>
<path d="M758.5 531.5L1380.5 531.5" fill="none" stroke="#b0b0b0" stroke-width="1.111" stroke-opacity="0.3" stroke-linecap="square" stroke-linejoin="round" clip-path="url(#c4)"/>
<path d="M758.5 531.5L753.5 531.5" fill="none" stroke="#000000" stroke-width="1.111" stroke-linejoin="round"/>
<text x="726 734.75 739.25" y="537" font-size="13.889">2.5</text>
<text x="716 726.5 735.25 741 751.5 758 763 769.5 779.75 789.5 799.75 804.5 815 821.5 826 836 846.5 852 860.5 871 881.5 891.5 902" y="827" transform="rotate(-90 716 827)" font-size="17">ds/dt (evolution speed)</text>
<path d="M786.5 761.5L792.5 761.5L798.5 761.5L803.5 761.5L809.5 761.5L815.5 761.5L820.5 761.5L826.5 761.5L832.5 761.5L838.5 761.5L843.5 761.5L849.5 761.5L855.5 761.5L860.5 761.5L866.5 761.5L872.5 761.5L878.5 761.5L883.5 761.5L889.5 761.5L895.5 761.5L900.5 761.5L906.5 761.5L912.5 761.5L918.5 761.5L923.5 761.5L929.5 761.5L935.5 761.5L940.5 761.5L946.5 761.5L952.5 761.5L958.5 761.5L963.5 761.5L969.5 761.5L975.5 761.5L980.5 761.5L986.5 761.5L992.5 761.5L998.5 761.5L1003.5 761.5L1009.5 761.5L1015.5 761.5L1020.5 761.5L1026.5 761.5L1032.5 761.5L1038.5 761.5L1043.5 761.5L1049.5 761.5L1055.5 761.5L1060.5 761.5L1066.5 761.5L1072.5 761.5L1078.5 761.5L1083.5 761.5L1089.5 761.5L1095.5 761.5L1100.5 761.5L1106.5 761.5L1112.5 761.5L1118.5 761.5L1123.5 761.5L1129.5 761.5L1135.5 761.5L1140.5 761.5L1146.5 761.5L1152.5 761.5L1157.5 761.5L1163.5 761.5L1169.5 761.5L1175.5 761.5L1180.5 761.5L1186.5 761.5L1192.5 761.5L1197.5 761.5L1203.5 761.5L1209.5 761.5L1215.5 761.5L1220.5 761.5L1226.5 761.5L1232.5 761.5L1237.5 761.5L1243.5 761.5L1249.5 761.5L1255.5 761.5L1260.5 761.5L1266.5 761.5L1272.5 761.5L1277.5 761.5L1283.5 761.5L1289.5 761.5L1295.5 761.5L1300.5 761.5L1306.5 761.5L1312.5 761.5L1317.5 761.5L1323.5 761.5L1329.5 761.5L1335.5 761.5L1340.5 761.5L1346.5 761.5L1352.5 761.5" fill="none" stroke="#0000ff" stroke-width="2.778" stroke-linecap="square" stroke-linejoin="round" clip-path="url(#c4)"/>
<path d="M786.18 544.33L791.89 556.86L797.61 581.47L803.32 605.21L809.03 628.07L814.74 650.05L820.46 671.16L826.17 691.38L831.88 710.73L837.59 729.2L843.31 746.78L849.02 763.49L854.73 779.33L860.44 794.28L866.16 808.36L871.87 821.55L877.58 833.87L883.29 845.31L889.01 855.87L894.72 865.55L900.43 874.36L906.14 882.28L911.86 889.33L917.57 895.5L923.28 900.79L928.99 905.2L934.71 908.73L940.42 911.39L946.13 913.16L951.84 914.06L957.56 914.08L963.27 913.22L968.98 911.48L974.69 908.86L980.41 905.37L986.12 900.99L991.83 895.74L997.54 889.61L1003.26 882.6L1008.97 874.71L1014.68 865.95L1020.39 856.3L1026.11 845.78L1031.82 834.38L1037.53 822.1L1043.24 808.94L1048.96 794.9L1054.67 779.99L1060.38 764.19L1066.1 747.54L1071.81 730.49L1077.52 713.95L1083.23 698.37L1088.95 683.77L1094.66 670.17L1100.37 657.55L1106.08 645.92L1111.8 635.27L1117.51 625.61L1123.22 616.93L1128.93 609.25L1134.65 602.55L1140.36 596.83L1146.07 592.1L1151.78 588.36L1157.5 585.61L1163.21 583.84L1168.92 583.05L1174.63 583.26L1180.35 584.45L1186.06 586.62L1191.77 589.79L1197.48 593.94L1203.2 599.07L1208.91 605.19L1214.62 612.3L1220.33 620.4L1226.05 629.48L1231.76 639.54L1237.47 650.6L1243.18 662.64L1248.9 675.66L1254.61 689.68L1260.32 704.68L1266.03 720.66L1271.75 737.64L1277.46 758.29L1283.17 842.22L1288.88 914.23L1294.6 914.23L1300.31 914.23L1306.02 914.23L1311.73 914.23L1317.45 914.23L1323.16 914.23L1328.87 914.23L1334.59 914.23L1340.3 914.23L1346.01 914.23L1351.72 914.23" fill="none" stroke="#ff0000" stroke-width="2.778" stroke-linecap="square" stroke-linejoin="round" clip-path="url(#c4)"/>
<path d="M758.5 933.5L758.5 526.5" fill="none" stroke="#000000" stroke-width="1.111" stroke-linecap="square"/>
<path d="M1380.5 933.5L1380.5 526.5" fill="none" stroke="#000000" stroke-width="1.111" stroke-linecap="square"/>
<path d="M758.5 933.5L1380.5 933.5" fill="none" stroke="#000000" stroke-width="1.111" stroke-linecap="square"/>
<path d="M758.5 526.5L1380.5 526.5" fill="none" stroke="#000000" stroke-width="1.111" stroke-linecap="square"/>
<text x="926 940 951.5 965.5 978.75 992.75 1006.5 1013.25 1026.5 1033.25 1046.5 1059.25 1072.75 1079.5 1093.25 1102.75 1109.25 1122.75 1136.75 1143.5 1157.5 1171.25 1184.75 1198" y="518" font-size="19.444" font-weight="bold">Schedule Evolution Speed</text>
<path d="M969.5 583.5L1169.5 583.5Q1172.5 583.5 1172.5 580.5L1172.5 537.5Q1172.5 533.5 1169.5 533.5L969.5 533.5Q965.5 533.5 965.5 537.5L965.5 580.5Q965.5 583.5 969.5 583.5Z" fill="#ffffff" fill-opacity="0.8" stroke="#cccccc" stroke-width="1.389" stroke-opacity="0.8"/>
<path d="M972.5 546.5L987.5 546.5L1002.5 546.5" fill="none" stroke="#0000ff" stroke-width="2.778" stroke-linecap="square" stroke-linejoin="round"/>
<text x="1014 1022.5 1026.75 1036.5 1046 1055.25 1061.75 1066.5 1074.5 1083 1092.75 1102.25 1112 1121.5 1125.75" y="552" font-size="15.278">Linear schedule</text>
<path d="M972.5 569.5L987.5 569.5L1002.5 569.5" fill="none" stroke="#ff0000" stroke-width="2.778" stroke-linecap="square" stroke-linejoin="round"/>
<text x="1014 1026 1035.75 1041.75 1046 1061 1065.25 1073.25 1082.75 1092.5 1097.25 1105.25 1113.75 1123.5 1133 1142.75 1152.25 1156.5" y="574" font-size="15.278">Optimized schedule</text>
</svg>
</body>
</html>
